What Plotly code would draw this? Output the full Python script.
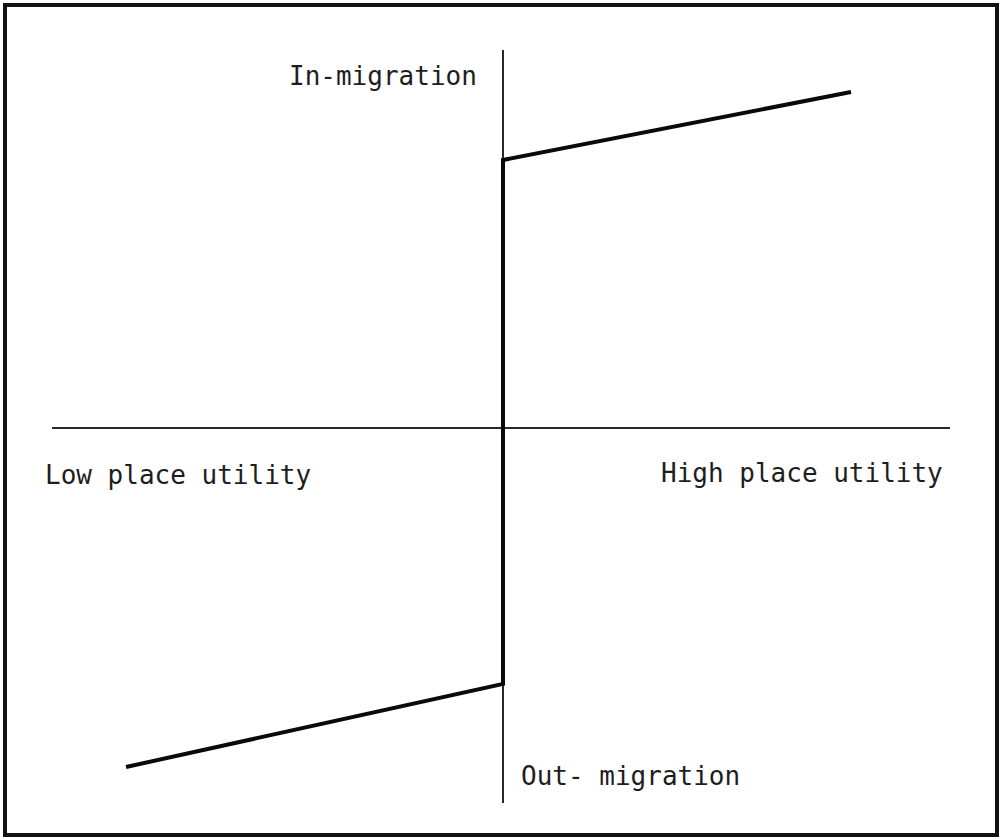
import plotly.graph_objects as go

# Conceptual diagram data (place utility vs. migration), arbitrary units
utility = [-3.77, 0.0, 0.0, 3.48]
migration = [-3.39, -2.56, 2.68, 3.36]

# Axis extents
x_axis_line = [-4.51, 4.47]
y_axis_line = [-3.75, 3.78]

labels = ["In-migration", "Low place utility", "High place utility", "Out- migration"]
label_x = [-0.24, -4.60, 1.56, 0.16]
label_y = [3.52, -0.47, -0.45, -3.48]
label_anchor = ["right", "left", "left", "left"]

fig = go.Figure()

# horizontal axis
fig.add_trace(go.Scatter(x=x_axis_line, y=[0, 0], mode="lines",
                         line=dict(color="#2a2a2a", width=1.8), hoverinfo="skip", showlegend=False))
# vertical axis
fig.add_trace(go.Scatter(x=[0, 0], y=y_axis_line, mode="lines",
                         line=dict(color="#111111", width=1.8), hoverinfo="skip", showlegend=False))
# migration curve
fig.add_trace(go.Scatter(x=utility, y=migration, mode="lines",
                         line=dict(color="#0a0a0a", width=4), hoverinfo="skip", showlegend=False))

for t, x, y, a in zip(labels, label_x, label_y, label_anchor):
    fig.add_annotation(x=x, y=y, xref="x", yref="y", text=t, showarrow=False,
                       xanchor=a, yanchor="middle",
                       font=dict(family="DejaVu Sans Mono", size=26, color="#1e1e1e"))

# frame
fig.add_shape(type="rect", xref="x", yref="y", x0=-4.98, x1=4.94, y0=-4.07, y1=4.23,
              line=dict(color="#111111", width=4), fillcolor="rgba(0,0,0,0)")

fig.update_xaxes(range=[-5.03, 4.96], visible=False, showgrid=False, zeroline=False)
fig.update_yaxes(range=[-4.09, 4.28], visible=False, showgrid=False, zeroline=False)
fig.update_layout(width=999, height=837, margin=dict(l=0, r=0, t=0, b=0),
                  plot_bgcolor="white", paper_bgcolor="white", hovermode=False)

fig.write_html("out.html", config={"displayModeBar": False, "staticPlot": True})

# remove default page margin so the figure fills the window exactly
with open("out.html", "r", encoding="utf-8") as f:
    html = f.read()
html = html.replace("<head>", "<head><style>html,body{margin:0;padding:0;overflow:hidden;}</style>", 1)
with open("out.html", "w", encoding="utf-8") as f:
    f.write(html)
